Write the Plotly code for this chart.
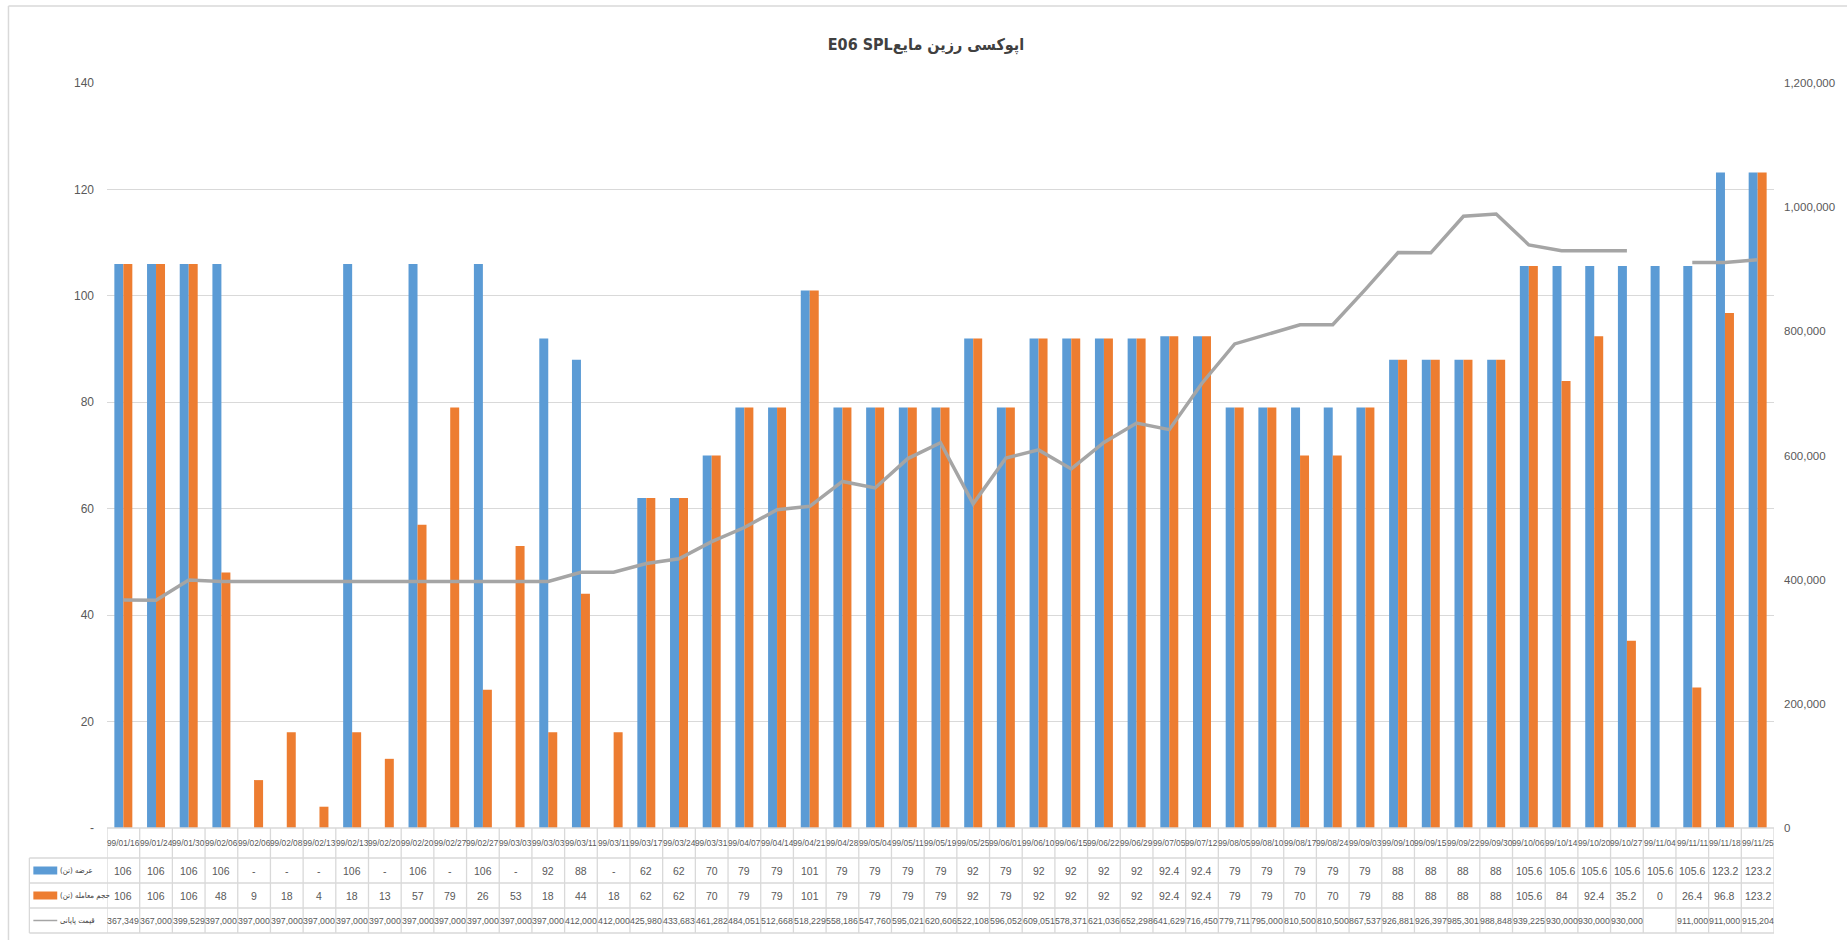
import plotly.graph_objects as go

# ---- data -------------------------------------------------------------
dates = ["99/01/16", "99/01/24", "99/01/30", "99/02/06", "99/02/06", "99/02/08",
         "99/02/13", "99/02/13", "99/02/20", "99/02/20", "99/02/27", "99/02/27",
         "99/03/03", "99/03/03", "99/03/11", "99/03/11", "99/03/17", "99/03/24",
         "99/03/31", "99/04/07", "99/04/14", "99/04/21", "99/04/28", "99/05/04",
         "99/05/11", "99/05/19", "99/05/25", "99/06/01", "99/06/10", "99/06/15",
         "99/06/22", "99/06/29", "99/07/05", "99/07/12", "99/08/05", "99/08/10",
         "99/08/17", "99/08/24", "99/09/03", "99/09/10", "99/09/15", "99/09/22",
         "99/09/30", "99/10/06", "99/10/14", "99/10/20", "99/10/27", "99/11/04",
         "99/11/11", "99/11/18", "99/11/25"]

supply = [106, 106, 106, 106, None, None, None, 106, None, 106,
          None, 106, None, 92, 88, None, 62, 62, 70, 79, 79, 101,
          79, 79, 79, 79, 92, 79, 92, 92, 92, 92, 92.4, 92.4,
          79, 79, 79, 79, 79, 88, 88, 88, 88,
          105.6, 105.6, 105.6, 105.6, 105.6, 105.6, 123.2, 123.2]

volume = [106, 106, 106, 48, 9, 18, 4, 18, 13, 57,
          79, 26, 53, 18, 44, 18, 62, 62, 70, 79, 79, 101,
          79, 79, 79, 79, 92, 79, 92, 92, 92, 92, 92.4, 92.4,
          79, 79, 70, 70, 79, 88, 88, 88, 88,
          105.6, 84, 92.4, 35.2, 0, 26.4, 96.8, 123.2]

price = [367349, 367000, 399529, 397000, 397000, 397000, 397000, 397000, 397000, 397000,
         397000, 397000, 397000, 397000, 412000, 412000, 425980, 433683, 461282, 484051,
         512668, 518229, 558186, 547760, 595021, 620606, 522108, 596052, 609051, 578371,
         621036, 652298, 641629, 716450, 779711, 795000, 810500, 810500, 867537, 926881,
         926397, 985301, 988848, 939225, 930000, 930000, 930000, None, 911000, 911000,
         915204]

series_names = ["عرضه (تن)", "حجم معامله (تن)", "قیمت پایانی"]
title_text = "E06 SPL" + "اپوکسی رزین مایع"

left_ticks = [0, 20, 40, 60, 80, 100, 120, 140]
left_ticktext = ["-", "20", "40", "60", "80", "100", "120", "140"]
right_ticks = [0, 200000, 400000, 600000, 800000, 1000000, 1200000]

# ---- style ------------------------------------------------------------
BLUE = "#5B9BD5"
ORANGE = "#ED7D31"
GRAY = "#A5A5A5"
GRID = "#D9D9D9"
TXT = "#595959"
NUM_FONT = "Liberation Sans, Arial, sans-serif"
AR_FONT = "DejaVu Sans Condensed, DejaVu Sans, sans-serif"

W, H = 1847, 940
L, R, T, B = 107, 1782, 83, 828          # plot-area box in page pixels
PW, PH = R - L, B - T


def px_x(px):
    return (px - L) / PW


def px_y(py):
    return (B - py) / PH


x = list(range(len(dates)))

fig = go.Figure()
fig.add_trace(go.Bar(x=x, y=supply, name=series_names[0], marker_color=BLUE,
                     marker_line_width=0))
fig.add_trace(go.Bar(x=x, y=volume, name=series_names[1], marker_color=ORANGE,
                     marker_line_width=0))
fig.add_trace(go.Scatter(x=x, y=price, name=series_names[2], mode="lines",
                         line=dict(color=GRAY, width=3.5), yaxis="y2",
                         connectgaps=False))

# ---- data table under the plot -----------------------------------------
row_top = [828, 858, 883, 908, 933]   # header row, three value rows, bottom
annotations = []
shapes = []


def fmt_ton(v):
    return "-" if v is None else f"{v:g}"


def fmt_price(v):
    return "" if v is None else f"{v:,.0f}"


rows = [[fmt_ton(v) for v in supply],
        [fmt_ton(v) for v in volume],
        [fmt_price(v) for v in price]]
row_sizes = [10.5, 10.5, 8.8]

hdr_y = px_y((row_top[0] + row_top[1]) / 2)
for i, d in enumerate(dates):
    annotations.append(dict(x=i, y=hdr_y, xref="x", yref="paper", text=d,
                            showarrow=False, xanchor="center", yanchor="middle",
                            font=dict(family=NUM_FONT, size=8.3, color=TXT)))

for r, vals in enumerate(rows):
    cy = px_y((row_top[r + 1] + row_top[r + 2]) / 2)
    for i, s in enumerate(vals):
        if s == "":
            continue
        annotations.append(dict(x=i, y=cy, xref="x", yref="paper", text=s,
                                showarrow=False, xanchor="center", yanchor="middle",
                                font=dict(family=NUM_FONT, size=row_sizes[r],
                                          color=TXT)))
    # row label with its key
    annotations.append(dict(x=px_x(58), y=cy, xref="paper", yref="paper",
                            text=series_names[r], showarrow=False,
                            xanchor="left", yanchor="middle",
                            font=dict(family=AR_FONT, size=7.8, color="#404040")))
    if r < 2:
        shapes.append(dict(type="rect", xref="paper", yref="paper",
                           x0=px_x(33), x1=px_x(57),
                           y0=cy - 4 / PH, y1=cy + 4 / PH,
                           fillcolor=[BLUE, ORANGE][r], line=dict(width=0)))
    else:
        shapes.append(dict(type="line", xref="paper", yref="paper",
                           x0=px_x(33), x1=px_x(57), y0=cy, y1=cy,
                           line=dict(color=GRAY, width=1.5)))

# table grid
for k in range(len(dates) + 1):
    shapes.append(dict(type="line", xref="x", yref="paper",
                       x0=k - 0.5, x1=k - 0.5,
                       y0=px_y(row_top[0]), y1=px_y(row_top[-1]),
                       line=dict(color=GRID, width=1.3)))
shapes.append(dict(type="line", xref="paper", yref="paper",
                   x0=px_x(29), x1=px_x(29),
                   y0=px_y(row_top[1]), y1=px_y(row_top[-1]),
                   line=dict(color=GRID, width=1.3)))
shapes.append(dict(type="line", xref="paper", yref="paper",
                   x0=0, x1=1, y0=px_y(row_top[0]), y1=px_y(row_top[0]),
                   line=dict(color=GRID, width=1.3)))
for yy in row_top[1:]:
    shapes.append(dict(type="line", xref="paper", yref="paper",
                       x0=px_x(29), x1=1, y0=px_y(yy), y1=px_y(yy),
                       line=dict(color=GRID, width=1.3)))

# chart-area frame
shapes.append(dict(type="line", xref="paper", yref="paper",
                   x0=px_x(8), x1=px_x(8), y0=px_y(6), y1=px_y(W),
                   line=dict(color=GRID, width=1.5)))
shapes.append(dict(type="line", xref="paper", yref="paper",
                   x0=px_x(8), x1=px_x(W + 10), y0=px_y(6), y1=px_y(6),
                   line=dict(color=GRID, width=1.5)))

fig.update_layout(
    width=W, height=H,
    margin=dict(l=L, r=W - R, t=T, b=H - B, pad=0),
    paper_bgcolor="white", plot_bgcolor="white",
    showlegend=False,
    barmode="group", bargap=0.45, bargroupgap=0,
    title=dict(text=f"<b>{title_text}</b>", x=926 / W, xref="container",
               xanchor="center", y=1 - 44 / H, yanchor="middle",
               font=dict(family=AR_FONT, size=16, color="#404040")),
    xaxis=dict(range=[-0.5, len(dates) - 0.5], showticklabels=False,
               showgrid=False, zeroline=False, showline=False, ticks=""),
    yaxis=dict(range=[0, 140], tickvals=left_ticks, ticktext=left_ticktext,
               showgrid=True, gridcolor=GRID, gridwidth=1.3, zeroline=False,
               showline=False, ticks="", ticklabelstandoff=12,
               tickfont=dict(family=NUM_FONT, size=12, color=TXT)),
    yaxis2=dict(range=[0, 1200000], overlaying="y", side="right",
                tickvals=right_ticks,
                ticktext=[f"{v:,}" for v in right_ticks],
                showgrid=False, zeroline=False, showline=False, ticks="",
                ticklabelstandoff=9,
                tickfont=dict(family=NUM_FONT, size=11.5, color=TXT)),
    annotations=annotations,
    shapes=shapes,
)

fig.write_html("out.html")
